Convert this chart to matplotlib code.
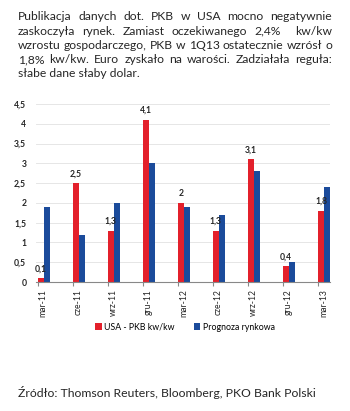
import matplotlib
matplotlib.use('Agg')
from matplotlib import pyplot as plt
import numpy as np

# kwartalne dane PKB USA (kw/kw, zannualizowane) i prognozy rynkowe
quarters = ['mar-11', 'cze-11', 'wrz-11', 'gru-11', 'mar-12',
            'cze-12', 'wrz-12', 'gru-12', 'mar-13']
gdp_usa = [0.1, 2.5, 1.3, 4.1, 2.0, 1.3, 3.1, 0.4, 1.8]
forecast = [1.9, 1.2, 2.0, 3.0, 1.9, 1.7, 2.8, 0.5, 2.4]

y_ticks = [0, 0.5, 1, 1.5, 2, 2.5, 3, 3.5, 4, 4.5]

header_lines = [
    'Publikacja danych dot. PKB w USA mocno negatywnie',
    'zaskoczyła rynek. Zamiast oczekiwanego 2,4%  kw/kw',
    'wzrostu gospodarczego, PKB w 1Q13 ostatecznie wzrósł o',
    '1,8% kw/kw. Euro zyskało na warości. Zadziałała reguła:',
    'słabe dane słaby dolar.',
]
source = 'Źródło: Thomson Reuters, Bloomberg, PKO Bank Polski'

RED = '#e3202b'
BLUE = '#1b4b9b'
TXT = '#262626'
FONT = 'Lato'

W, H = 350, 411
fig = plt.figure(figsize=(W / 100, H / 100), dpi=100)


def pl(v):
    # polski zapis liczb: przecinek dziesiętny
    s = ('%g' % v).replace('.', ',')
    return s


def justified(lines, x0, x1, y_top, step, size):
    # tekst wyjustowany do obu krawędzi (ostatnia linia do lewej)
    renderer = fig.canvas.get_renderer()
    for n, line in enumerate(lines):
        y = 1 - (y_top + n * step) / H
        words = line.split(' ')
        if n == len(lines) - 1:
            fig.text(x0 / W, y, line, fontsize=size, family=FONT,
                     color=TXT, va='center', ha='left')
            continue
        widths = []
        arts = []
        for w in words:
            t = fig.text(0, y, w, fontsize=size, family=FONT,
                         color=TXT, va='center', ha='left')
            arts.append(t)
            widths.append(t.get_window_extent(renderer).width if w else 0)
        gap = (x1 - x0 - sum(widths)) / (len(words) - 1)
        x = x0
        for t, wd in zip(arts, widths):
            t.set_x(x / W)
            x += wd + gap


justified(header_lines, 18, 332, 17, 14.2, 8.7)

ax = fig.add_axes([36 / W, 1 - 282 / H, 294 / W, (282 - 104) / H])

x = np.arange(len(quarters))
bw = 0.17
ax.bar(x + bw / 2, gdp_usa, width=bw, color=RED, label='USA - PKB kw/kw')
ax.bar(x + 1.5 * bw, forecast, width=bw, color=BLUE, label='Prognoza rynkowa')

for xi, v in zip(x, gdp_usa):
    ax.text(xi + bw / 2, v + 0.12, pl(v), ha='center', va='bottom',
            fontsize=6.2, family=FONT, color=TXT, fontweight='bold')

ax.set_xlim(-0.05, len(quarters) - 1 + 2 * bw)
ax.set_ylim(0, 4.5)
ax.set_yticks(y_ticks)
ax.set_yticklabels([pl(v) for v in y_ticks], fontsize=6.2, family=FONT,
                   color=TXT, fontweight='bold')
ax.tick_params(axis='y', length=0, pad=7)
ax.yaxis.grid(True, color='#e6e6e6', linewidth=0.7)
ax.set_axisbelow(True)

ax.set_xticks(x)
ax.set_xticklabels([])
ax.set_xticks(x + 0.16, minor=True)
ax.set_xticklabels(quarters, minor=True, rotation=90, fontsize=6.2,
                   family=FONT, color=TXT, va='top', ha='center')
ax.tick_params(axis='x', which='major', length=3, color='#888888')
ax.tick_params(axis='x', which='minor', length=0, pad=5)

for s in ['top', 'right', 'left']:
    ax.spines[s].set_visible(False)
ax.spines['bottom'].set_color('#888888')
ax.spines['bottom'].set_linewidth(0.8)

fig.legend(loc='center', bbox_to_anchor=(185 / W, 1 - 327 / H), ncol=2,
           frameon=False, prop={'family': FONT, 'size': 6.3},
           handlelength=0.7, handleheight=0.7, handletextpad=0.3,
           columnspacing=2.2)

fig.text(18 / W, 1 - 392 / H, source, fontsize=8.8, family=FONT,
         color=TXT, va='center', ha='left')

fig.savefig('out.png', dpi=100, facecolor='white')
